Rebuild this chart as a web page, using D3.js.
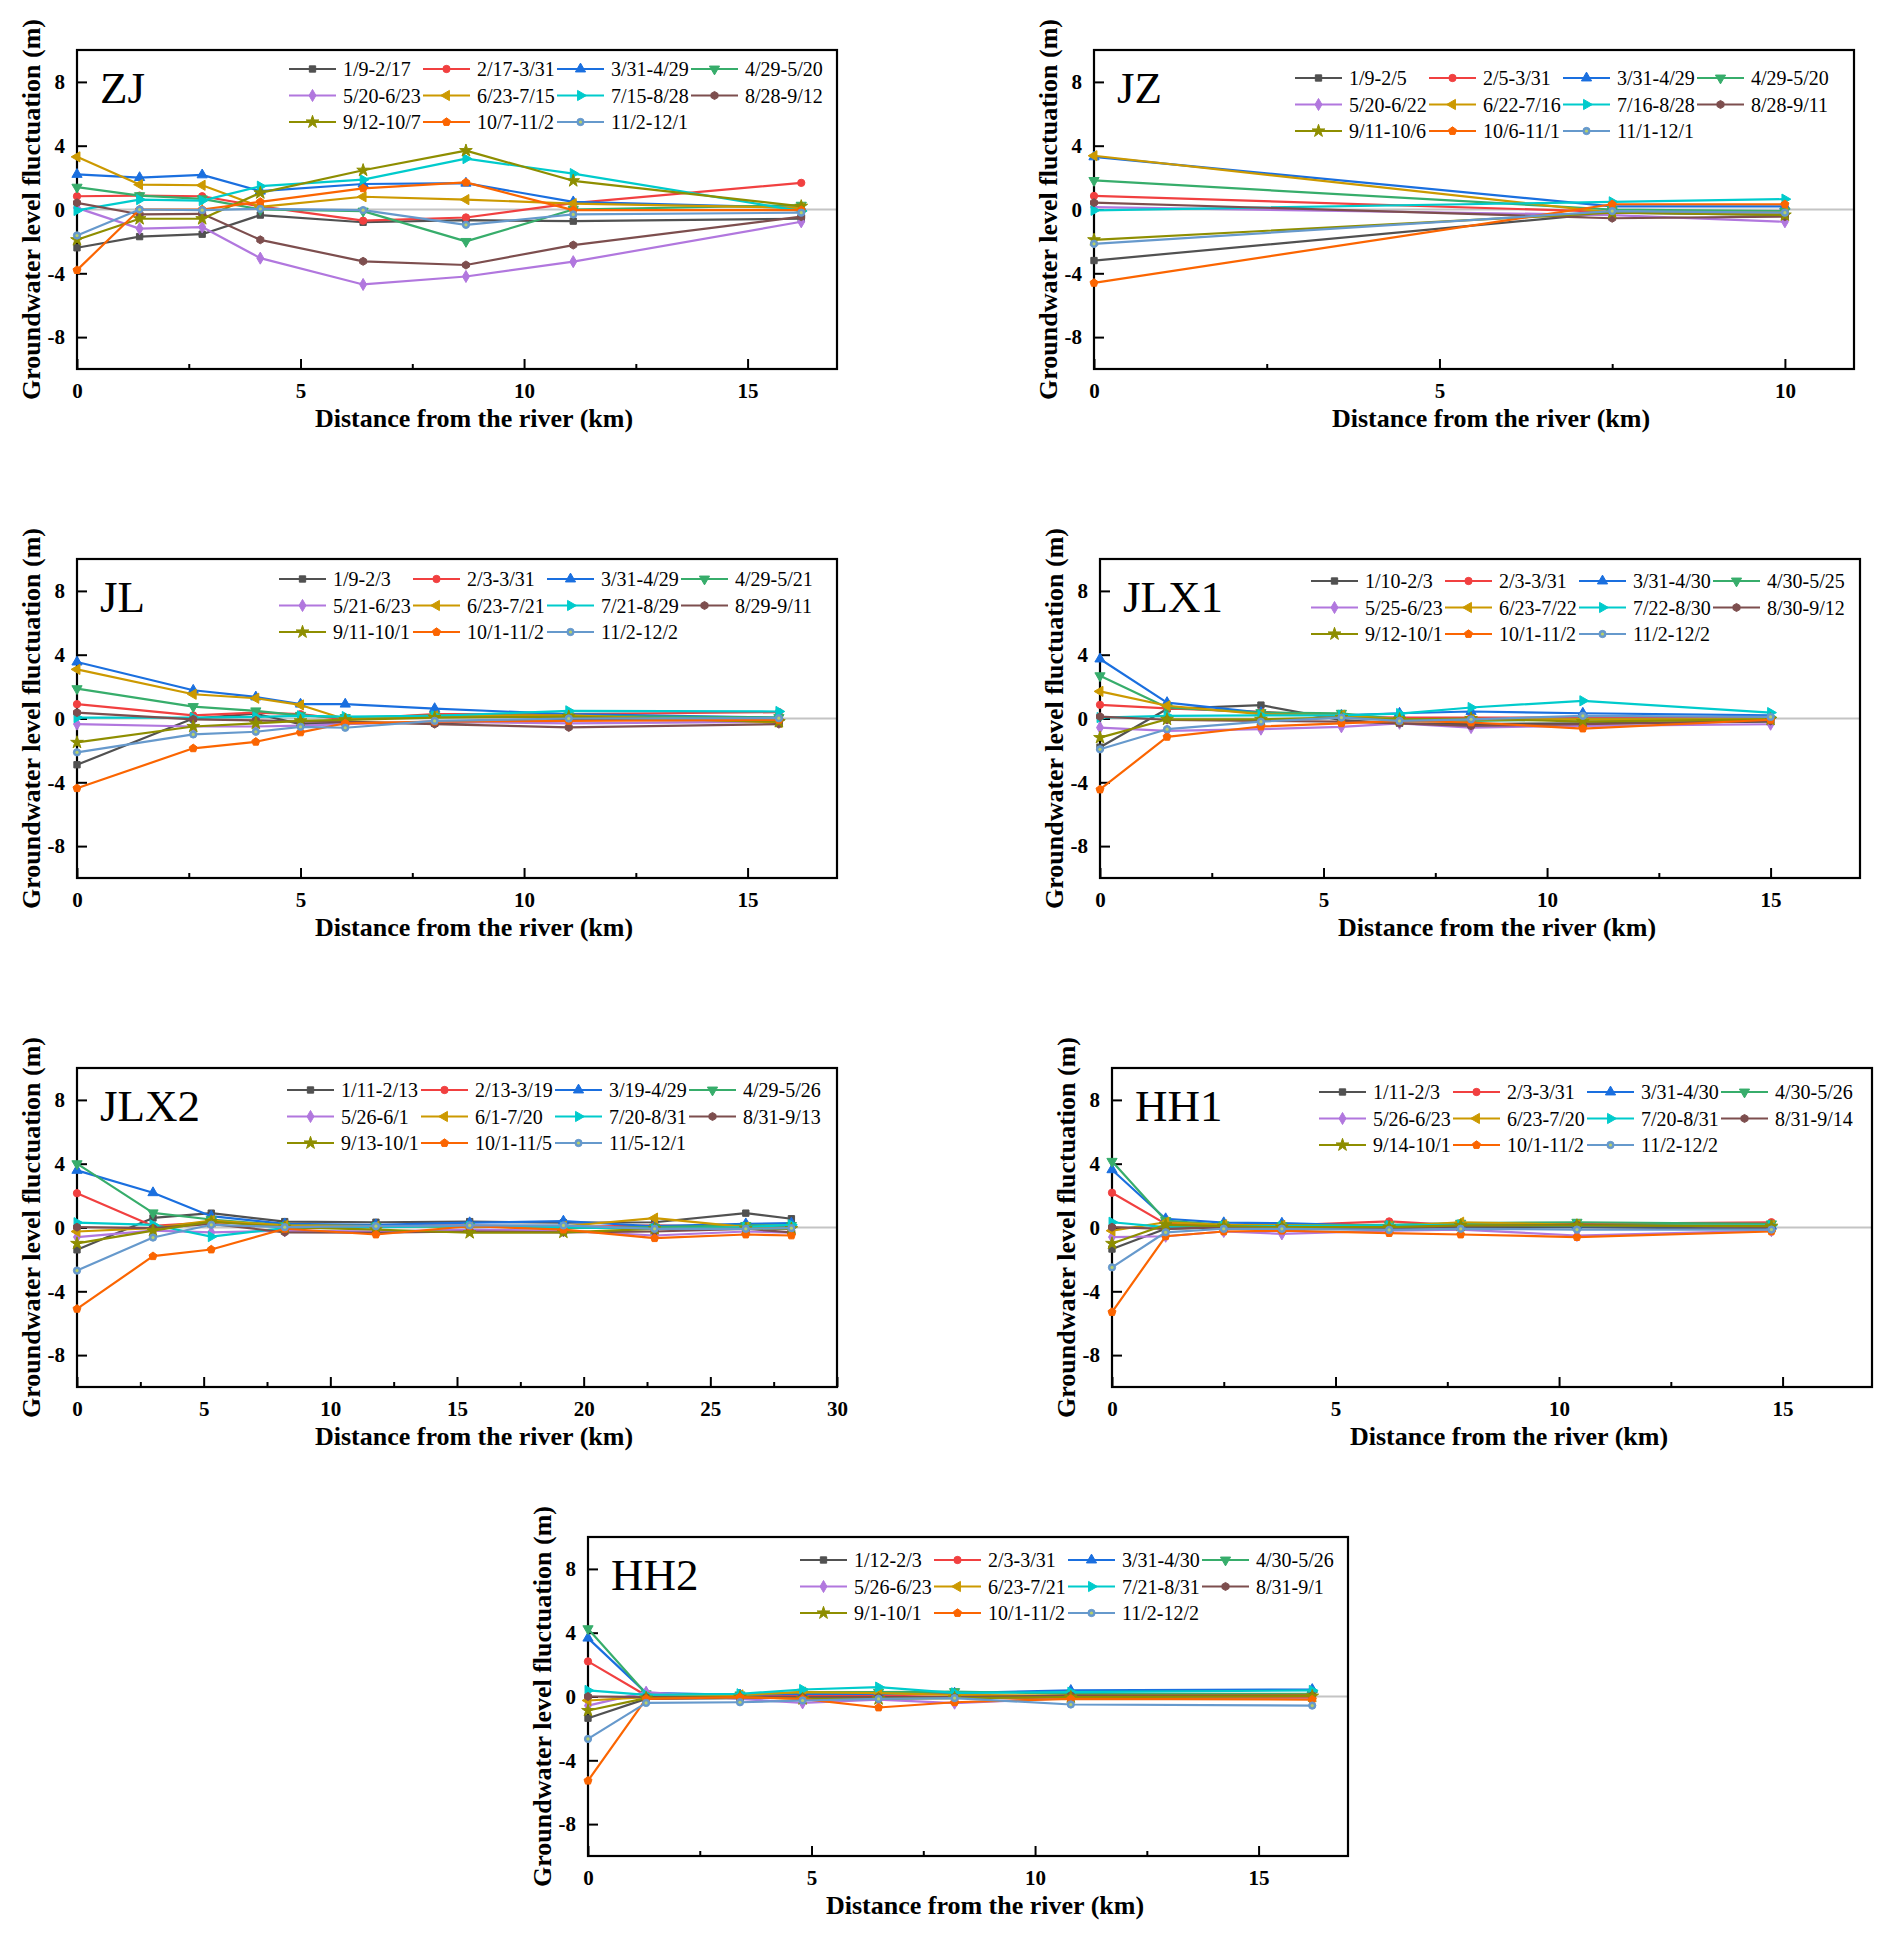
<!DOCTYPE html>
<html>
<head>
<meta charset="utf-8">
<script src="https://cdn.jsdelivr.net/npm/d3@7"></script>
<style>
  body { margin: 0; background: #fff; }
  text { font-family: "Liberation Serif", "Times New Roman", serif; }
</style>
</head>
<body>
<div id="chart"></div>
<script>
// series colours (Origin "Bold" palette)
const seriesColors = ["#515151", "#F14040", "#1A6FDF", "#37AD6B", "#B177DE", "#CC9900",
  "#00CBCC", "#7D4E4E", "#8E8E00", "#FB6501", "#6699CC"];

// ---- ZJ
const zjDist = [0, 1.4, 2.8, 4.1, 6.4, 8.7, 11.1, 16.2];
const zjLabels = ["1/9-2/17", "2/17-3/31", "3/31-4/29", "4/29-5/20", "5/20-6/23", "6/23-7/15",
  "7/15-8/28", "8/28-9/12", "9/12-10/7", "10/7-11/2", "11/2-12/1"];
const zjValues = [
  [-2.4, -1.7, -1.55, -0.35, -0.8, -0.67, -0.73, -0.58],
  [0.83, 0.87, 0.83, 0.2, -0.7, -0.5, 0.4, 1.67],
  [2.2, 2.0, 2.17, 1.15, 1.6, 1.65, 0.48, 0.1],
  [1.4, 0.87, 0.67, 0, -0.1, -2.0, 0, 0.27],
  [0.1, -1.2, -1.1, -3.05, -4.7, -4.2, -3.27, -0.77],
  [3.3, 1.56, 1.52, 0.17, 0.8, 0.62, 0.37, 0.1],
  [-0.06, 0.62, 0.56, 1.46, 1.87, 3.19, 2.25, -0.1],
  [0.42, -0.3, -0.27, -1.9, -3.25, -3.48, -2.23, -0.45],
  [-1.9, -0.58, -0.58, 1.04, 2.46, 3.69, 1.8, 0.2],
  [-3.8, 0, 0, 0.48, 1.33, 1.7, -0.04, -0.04],
  [-1.63, 0, -0.04, 0.04, -0.04, -0.96, -0.31, -0.2]
];

// ---- JZ
const jzDist = [0, 7.5, 10];
const jzLabels = ["1/9-2/5", "2/5-3/31", "3/31-4/29", "4/29-5/20", "5/20-6/22", "6/22-7/16",
  "7/16-8/28", "8/28-9/11", "9/11-10/6", "10/6-11/1", "11/1-12/1"];
const jzValues = [
  [-3.2, -0.2, -0.35],
  [0.85, -0.15, -0.25],
  [3.3, 0.2, 0.2],
  [1.82, 0, -0.1],
  [0.15, -0.35, -0.77],
  [3.37, -0.2, -0.2],
  [-0.05, 0.48, 0.65],
  [0.43, -0.55, -0.45],
  [-1.9, -0.2, -0.35],
  [-4.6, 0.33, 0.33],
  [-2.15, -0.1, -0.2]
];

// ---- JL
const jlDist = [0, 2.6, 4.0, 5.0, 6.0, 8.0, 11.0, 15.7];
const jlLabels = ["1/9-2/3", "2/3-3/31", "3/31-4/29", "4/29-5/21", "5/21-6/23", "6/23-7/21",
  "7/21-8/29", "8/29-9/11", "9/11-10/1", "10/1-11/2", "11/2-12/2"];
const jlValues = [
  [-2.9, 0, 0.3, -0.35, -0.25, -0.3, -0.05, -0.15],
  [0.9, 0.2, 0.37, 0.27, -0.05, 0.27, 0.27, 0.4],
  [3.54, 1.77, 1.35, 0.9, 0.9, 0.62, 0.27, 0.06],
  [1.87, 0.75, 0.48, 0.2, 0.06, 0.2, 0.17, 0.06],
  [-0.35, -0.5, -0.5, -0.45, -0.35, -0.2, -0.3, -0.2],
  [3.08, 1.52, 1.27, 0.85, -0.05, 0.17, 0.2, -0.25],
  [0.06, 0.06, 0.1, 0.17, 0.12, 0.17, 0.48, 0.44],
  [0.37, -0.05, -0.12, -0.2, -0.2, -0.35, -0.56, -0.35],
  [-1.5, -0.5, -0.3, -0.15, -0.08, 0.06, 0.12, -0.2],
  [-4.37, -1.87, -1.46, -0.87, -0.3, -0.2, -0.15, -0.08],
  [-2.12, -1.0, -0.83, -0.52, -0.58, -0.15, 0, 0.02]
];

// ---- JLX1
const jlx1Dist = [0, 1.5, 3.6, 5.4, 6.7, 8.3, 10.8, 15.0];
const jlx1Labels = ["1/10-2/3", "2/3-3/31", "3/31-4/30", "4/30-5/25", "5/25-6/23", "6/23-7/22",
  "7/22-8/30", "8/30-9/12", "9/12-10/1", "10/1-11/2", "11/2-12/2"];
const jlx1Values = [
  [-1.8, 0.6, 0.84, -0.1, -0.3, -0.35, -0.3, -0.2],
  [0.86, 0.63, 0.42, 0.12, 0.06, 0.06, 0.06, 0.06],
  [3.73, 1.0, 0.37, 0.2, 0.33, 0.44, 0.33, 0.2],
  [2.68, 0.69, 0.37, 0.33, -0.05, -0.15, -0.05, -0.05],
  [-0.57, -0.77, -0.67, -0.52, -0.3, -0.57, -0.46, -0.36],
  [1.7, 0.8, 0.27, 0.2, -0.05, -0.05, -0.05, -0.05],
  [0.06, 0.17, 0.2, 0.2, 0.31, 0.69, 1.11, 0.37],
  [0.12, -0.08, -0.15, -0.2, -0.3, -0.46, -0.36, -0.15],
  [-1.2, -0.05, -0.05, 0.06, -0.05, 0, -0.2, -0.05],
  [-4.45, -1.15, -0.5, -0.3, -0.15, -0.25, -0.63, -0.08],
  [-1.93, -0.67, -0.2, 0.06, -0.15, -0.05, 0.17, 0.1]
];

// ---- JLX2
const jlx2Dist = [0, 3.0, 5.3, 8.2, 11.8, 15.5, 19.2, 22.8, 26.4, 28.2];
const jlx2Labels = ["1/11-2/13", "2/13-3/19", "3/19-4/29", "4/29-5/26", "5/26-6/1", "6/1-7/20",
  "7/20-8/31", "8/31-9/13", "9/13-10/1", "10/1-11/5", "11/5-12/1"];
const jlx2Values = [
  [-1.4, 0.6, 0.9, 0.37, 0.33, 0.37, 0.3, 0.33, 0.9, 0.55],
  [2.15, 0.1, 0.33, 0.17, 0.13, 0.13, 0.02, 0.13, 0.02, 0.08],
  [3.58, 2.18, 0.71, 0.23, 0.17, 0.3, 0.4, 0.08, 0.23, 0.27],
  [4.0, 0.92, 0.5, 0.13, 0.08, 0.08, -0.04, 0.02, 0.13, 0.13],
  [-0.6, -0.2, -0.3, -0.2, -0.25, -0.13, -0.2, -0.5, -0.25, -0.33],
  [-0.25, -0.04, 0.44, 0.13, 0.08, 0.02, 0.08, 0.59, 0.02, -0.08],
  [0.3, 0.17, -0.57, -0.04, 0.02, 0.08, 0.02, -0.08, 0.02, 0.17],
  [0.02, -0.04, 0.23, -0.3, -0.33, -0.25, -0.3, -0.25, -0.08, -0.3],
  [-1.0, -0.2, 0.37, 0.02, -0.13, -0.33, -0.3, -0.08, -0.08, -0.08],
  [-5.1, -1.8, -1.38, -0.08, -0.44, 0.08, -0.13, -0.67, -0.44, -0.5],
  [-2.7, -0.63, 0.17, 0.02, 0.08, 0.13, 0.13, -0.08, -0.08, -0.04]
];

// ---- HH1
const hh1Dist = [0, 1.2, 2.5, 3.8, 6.2, 7.8, 10.4, 14.75];
const hh1Labels = ["1/11-2/3", "2/3-3/31", "3/31-4/30", "4/30-5/26", "5/26-6/23", "6/23-7/20",
  "7/20-8/31", "8/31-9/14", "9/14-10/1", "10/1-11/2", "11/2-12/2"];
const hh1Values = [
  [-1.35, -0.08, 0.02, 0.02, -0.04, 0.02, 0.02, -0.08],
  [2.18, 0.23, 0.13, 0.13, 0.38, 0.13, 0.23, 0.33],
  [3.62, 0.55, 0.3, 0.27, 0.08, 0.13, 0.08, 0.08],
  [4.15, 0.44, 0.17, 0.13, 0.17, 0.27, 0.33, 0.23],
  [-0.6, -0.55, -0.25, -0.4, -0.2, -0.13, -0.5, -0.2],
  [-0.2, 0.33, 0.17, 0.13, 0.08, 0.33, 0.17, 0.13],
  [0.33, 0.02, 0.08, 0.08, 0.13, 0.17, 0.13, 0.13],
  [0.02, -0.08, 0.02, 0.02, -0.04, 0.08, 0.17, 0.02],
  [-1.0, 0.17, 0.08, 0.02, 0.02, 0.13, 0.13, 0.08],
  [-5.3, -0.55, -0.25, -0.2, -0.35, -0.44, -0.6, -0.25],
  [-2.5, -0.3, -0.08, -0.08, -0.15, -0.08, -0.13, -0.13]
];

// ---- HH2
const hh2Dist = [0, 1.3, 3.4, 4.8, 6.5, 8.2, 10.8, 16.2];
const hh2Labels = ["1/12-2/3", "2/3-3/31", "3/31-4/30", "4/30-5/26", "5/26-6/23", "6/23-7/21",
  "7/21-8/31", "8/31-9/1", "9/1-10/1", "10/1-11/2", "11/2-12/2"];
const hh2Values = [
  [-1.36, -0.15, -0.1, -0.04, -0.04, -0.04, -0.04, 0.02],
  [2.2, 0.06, 0.02, 0.1, 0.06, -0.04, -0.1, -0.1],
  [3.66, 0.23, 0.1, 0.17, 0.17, 0.21, 0.38, 0.44],
  [4.25, 0.17, 0.1, 0.27, 0.27, 0.31, 0.17, 0.17],
  [-0.57, 0.27, -0.15, -0.4, -0.19, -0.42, -0.1, -0.15],
  [-0.25, -0.04, 0.1, 0.27, 0.21, 0.1, 0.06, 0.1],
  [0.38, 0.1, 0.17, 0.44, 0.59, 0.23, 0.27, 0.38],
  [0, -0.04, -0.04, -0.04, -0.04, -0.04, 0.06, 0.06],
  [-0.88, -0.1, -0.04, -0.15, -0.15, -0.1, -0.04, 0.02],
  [-5.28, -0.15, -0.04, -0.15, -0.69, -0.36, -0.15, -0.19],
  [-2.66, -0.4, -0.36, -0.25, -0.15, -0.1, -0.5, -0.57]
];

const yTicks = [-8, -4, 0, 4, 8];

// panels: data + where they sit on the page
const panels = [
  { name: "ZJ",   dist: zjDist,   labels: zjLabels,   values: zjValues,   xMax: 17, left: 77,   top: 50,   lx: 212, ly: 19 },
  { name: "JZ",   dist: jzDist,   labels: jzLabels,   values: jzValues,   xMax: 11, left: 1094, top: 50,   lx: 201, ly: 28 },
  { name: "JL",   dist: jlDist,   labels: jlLabels,   values: jlValues,   xMax: 17, left: 77,   top: 559,  lx: 202, ly: 20 },
  { name: "JLX1", dist: jlx1Dist, labels: jlx1Labels, values: jlx1Values, xMax: 17, left: 1100, top: 559,  lx: 211, ly: 22 },
  { name: "JLX2", dist: jlx2Dist, labels: jlx2Labels, values: jlx2Values, xMax: 30, left: 77,   top: 1068, lx: 210, ly: 22 },
  { name: "HH1",  dist: hh1Dist,  labels: hh1Labels,  values: hh1Values,  xMax: 17, left: 1112, top: 1068, lx: 207, ly: 24 },
  { name: "HH2",  dist: hh2Dist,  labels: hh2Labels,  values: hh2Values,  xMax: 17, left: 588,  top: 1537, lx: 212, ly: 23 }
];

const pw = 760, ph = 319;

// marker shapes in series order
const hexagon = {
  draw(ctx, size) {
    const r = Math.sqrt(size / 2.598);
    for (let i = 0; i < 6; i++) {
      const a = Math.PI / 3 * i + Math.PI / 6;
      i === 0 ? ctx.moveTo(r * Math.cos(a), r * Math.sin(a)) : ctx.lineTo(r * Math.cos(a), r * Math.sin(a));
    }
    ctx.closePath();
  }
};
const pentagon = {
  draw(ctx, size) {
    const r = Math.sqrt(size / 2.378);
    for (let i = 0; i < 5; i++) {
      const a = -Math.PI / 2 + 2 * Math.PI / 5 * i;
      i === 0 ? ctx.moveTo(r * Math.cos(a), r * Math.sin(a)) : ctx.lineTo(r * Math.cos(a), r * Math.sin(a));
    }
    ctx.closePath();
  }
};
const markers = [
  { type: d3.symbolSquare, size: 40, rot: 0 },
  { type: d3.symbolCircle, size: 42, rot: 0 },
  { type: d3.symbolTriangle, size: 45, rot: 0 },
  { type: d3.symbolTriangle, size: 45, rot: 180 },
  { type: d3.symbolDiamond, size: 42, rot: 0 },
  { type: d3.symbolTriangle, size: 45, rot: -90 },
  { type: d3.symbolTriangle, size: 45, rot: 90 },
  { type: hexagon, size: 42, rot: 0 },
  { type: d3.symbolStar, size: 50, rot: 0 },
  { type: pentagon, size: 42, rot: 0 },
  { type: d3.symbolCircle, size: 42, rot: 0 }
];

const svg = d3.select("#chart").append("svg")
  .attr("width", 1892)
  .attr("height", 1941)
  .style("background", "#fff");

function drawMarker(g, i, cx, cy) {
  const m = markers[i];
  g.append("path")
    .attr("d", d3.symbol().type(m.type).size(m.size)())
    .attr("transform", `translate(${cx},${cy}) rotate(${m.rot})`)
    .attr("fill", seriesColors[i])
    .attr("stroke", seriesColors[i])
    .attr("stroke-width", 1);
  if (i === 10) {
    g.append("circle").attr("cx", cx).attr("cy", cy).attr("r", 1.6).attr("fill", "#b8d06a");
  }
}

panels.forEach(p => {
  const g = svg.append("g");
  const x = d3.scaleLinear().domain([0, p.xMax]).range([p.left, p.left + pw]);
  const y = d3.scaleLinear().domain([-10, 10]).range([p.top + ph, p.top]);

  const major = d3.range(0, p.xMax + 0.001, 5);
  const minor = d3.range(2.5, p.xMax, 5);

  // zero reference line
  g.append("line")
    .attr("x1", p.left).attr("x2", p.left + pw)
    .attr("y1", y(0)).attr("y2", y(0))
    .attr("stroke", "#c4c4c4").attr("stroke-width", 2);

  // x axis
  const xAxisG = g.append("g")
    .attr("transform", `translate(0,${p.top + ph})`)
    .call(d3.axisBottom(x).tickValues(major).tickSize(-10).tickPadding(14).tickFormat(d => String(d)));
  g.append("g")
    .attr("transform", `translate(0,${p.top + ph})`)
    .call(d3.axisBottom(x).tickValues(minor).tickSize(-5).tickFormat(""))
    .call(a => a.select(".domain").remove())
    .selectAll("line").attr("stroke-width", 2);

  // y axis
  const yAxisG = g.append("g")
    .attr("transform", `translate(${p.left},0)`)
    .call(d3.axisLeft(y).tickValues(yTicks).tickSize(-10).tickPadding(12).tickFormat(d => String(d)));

  [xAxisG, yAxisG].forEach(a => {
    a.select(".domain").remove();
    a.selectAll("line").attr("stroke", "#000").attr("stroke-width", 2);
    a.selectAll("text")
      .attr("font-family", "'Liberation Serif', 'Times New Roman', serif")
      .attr("font-size", 21)
      .attr("font-weight", "bold")
      .attr("fill", "#000");
  });

  // frame
  g.append("rect")
    .attr("x", p.left).attr("y", p.top)
    .attr("width", pw).attr("height", ph)
    .attr("fill", "none").attr("stroke", "#000").attr("stroke-width", 2.2);

  // series
  const line = d3.line().x((d, j) => x(p.dist[j])).y(d => y(d));
  p.values.forEach((vals, i) => {
    const sg = g.append("g");
    sg.append("path")
      .attr("d", line(vals))
      .attr("fill", "none")
      .attr("stroke", seriesColors[i])
      .attr("stroke-width", 2.2)
      .attr("stroke-linejoin", "round");
    vals.forEach((v, j) => drawMarker(sg, i, x(p.dist[j]), y(v)));
  });

  // legend
  p.labels.forEach((lab, i) => {
    const col = i % 4, row = Math.floor(i / 4);
    const lx0 = p.left + p.lx + col * 134;
    const ly0 = p.top + p.ly + row * 26.5;
    const lg = g.append("g");
    lg.append("line")
      .attr("x1", lx0).attr("x2", lx0 + 47)
      .attr("y1", ly0).attr("y2", ly0)
      .attr("stroke", seriesColors[i]).attr("stroke-width", 2.2);
    drawMarker(lg, i, lx0 + 23.5, ly0);
    lg.append("text")
      .attr("x", lx0 + 54).attr("y", ly0)
      .attr("dy", "0.35em")
      .attr("font-size", 20)
      .attr("fill", "#000")
      .text(lab);
  });

  // panel name
  g.append("text")
    .attr("x", p.left + 23).attr("y", p.top + 53)
    .attr("font-size", 45)
    .attr("fill", "#000")
    .text(p.name);

  // axis titles
  g.append("text")
    .attr("x", p.left + pw / 2 + 17).attr("y", p.top + ph + 58)
    .attr("text-anchor", "middle")
    .attr("font-size", 26)
    .attr("font-weight", "bold")
    .text("Distance from the river (km)");

  g.append("text")
    .attr("transform", `translate(${p.left - 37},${p.top + ph / 2}) rotate(-90)`)
    .attr("text-anchor", "middle")
    .attr("font-size", 26)
    .attr("font-weight", "bold")
    .text("Groundwater level fluctuation (m)");
});
</script>
</body>
</html>
